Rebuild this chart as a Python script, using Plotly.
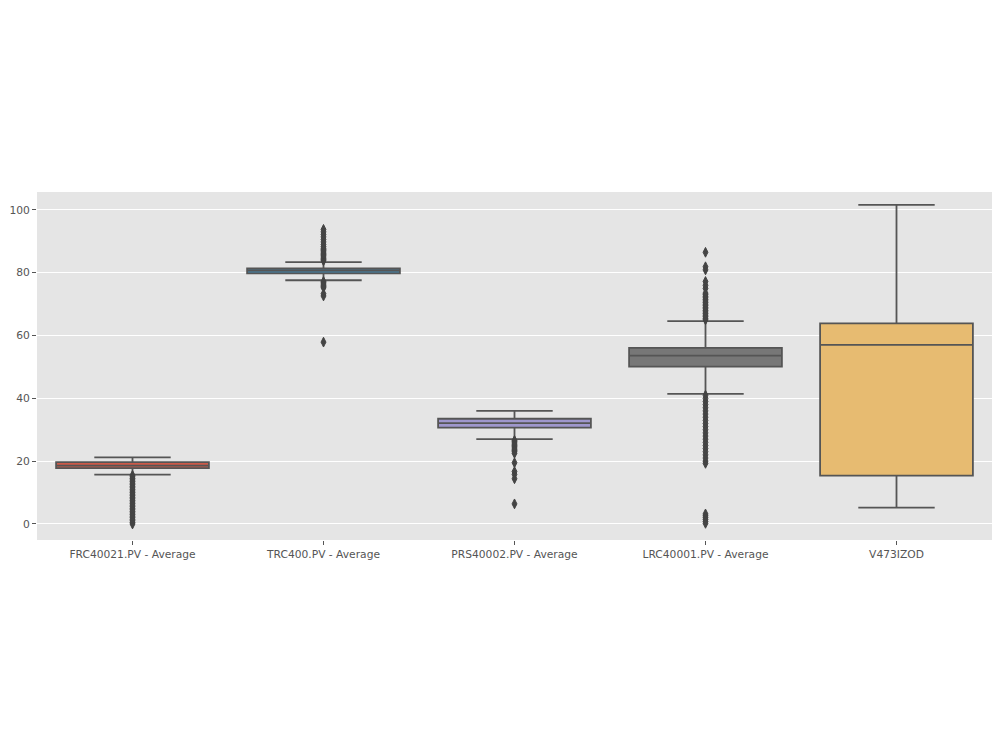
import plotly.graph_objects as go

categories = ["FRC40021.PV - Average", "TRC400.PV - Average", "PRS40002.PV - Average",
              "LRC40001.PV - Average", "V473IZOD"]
q1 = [17.8, 79.8, 30.7, 50.1, 15.4]
median = [18.6, 80.7, 32.1, 53.6, 57.0]
q3 = [19.7, 81.4, 33.5, 56.1, 63.9]
lowerfence = [15.7, 77.6, 27.0, 41.4, 5.2]
upperfence = [21.2, 83.4, 36.0, 64.6, 101.6]
fill_colors = ["#CC5A49", "#4586AC", "#9F97CC", "#777777", "#E7BB71"]

outliers = {
    "FRC40021.PV - Average": [15.5, 15.0, 14.5, 14.0, 13.5, 13.0, 12.5, 12.0, 11.5, 11.0, 10.5,
                              10.0, 9.5, 9.0, 8.5, 8.0, 7.5, 7.0, 6.5, 6.0, 5.5, 5.0, 4.5,
                              4.0, 3.5, 3.0, 2.5, 2.0, 1.5, 1.0, 0.5, 0.0],
    "TRC400.PV - Average": [83.8, 84.2, 84.6, 85.0, 85.4, 85.8, 86.2, 86.6, 87.0, 87.4, 87.8,
                            88.3, 89.0, 89.8, 90.6, 91.4, 92.2, 93.0, 93.8,
                            77.2, 76.8, 76.4, 76.0, 75.6, 75.2, 73.3, 72.6, 57.9],
    "PRS40002.PV - Average": [26.6, 26.2, 25.8, 25.4, 25.0, 24.6, 24.2, 23.8, 23.4, 23.0,
                              22.5, 19.5, 16.7, 15.8, 14.4, 6.4],
    "LRC40001.PV - Average": [65.0, 65.5, 66.0, 66.5, 67.0, 67.5, 68.0, 68.5, 69.0, 69.5, 70.0,
                              70.5, 71.0, 71.5, 72.0, 72.5, 73.0, 73.5, 75.0, 76.0, 77.2,
                              80.9, 81.9, 86.5,
                              41.0, 40.0, 39.0, 38.0, 37.0, 36.0, 35.0, 34.0, 33.0, 32.0,
                              31.0, 30.0, 29.0, 28.0, 27.0, 26.0, 25.0, 24.0, 23.0, 22.0,
                              21.0, 20.0, 19.3, 3.2, 2.6, 2.0, 1.4, 0.8, 0.2],
    "V473IZOD": [],
}

line_col = "#555555"
fig = go.Figure()
for i, cat in enumerate(categories):
    fig.add_trace(go.Box(
        x=[cat], q1=[q1[i]], median=[median[i]], q3=[q3[i]],
        lowerfence=[lowerfence[i]], upperfence=[upperfence[i]],
        fillcolor=fill_colors[i], line=dict(color=line_col, width=1.8),
        whiskerwidth=0.5, width=0.8, boxpoints=False, showlegend=False,
        hoverinfo="skip",
    ))

ox, oy = [], []
for cat in categories:
    for v in outliers[cat]:
        ox.append(cat)
        oy.append(v)
fig.add_trace(go.Scatter(
    x=ox, y=oy, mode="markers", showlegend=False,
    marker=dict(symbol="diamond-tall", size=7, color="#444444",
                line=dict(color="#444444", width=1)),
))

fig.update_layout(
    width=1000, height=750,
    paper_bgcolor="white", plot_bgcolor="#E5E5E5",
    margin=dict(l=37, r=8, t=192, b=210),
    boxmode="overlay",
    font=dict(family="DejaVu Sans", size=10.7, color="#555555"),
)
fig.update_xaxes(
    type="category", categoryorder="array", categoryarray=categories,
    range=[-0.5, 4.5],
    showgrid=False, zeroline=False, showline=False,
    ticks="outside", ticklen=4, tickcolor="#555555",
    tickfont=dict(size=10.7, color="#555555"),
)
fig.update_yaxes(
    range=[-5.1, 105.7], tickvals=[0, 20, 40, 60, 80, 100],
    showgrid=True, gridcolor="white", gridwidth=1, zeroline=False, showline=False,
    ticks="outside", ticklen=4, tickcolor="#555555",
    tickfont=dict(size=10.7, color="#555555"),
)
fig.write_html("out.html")
